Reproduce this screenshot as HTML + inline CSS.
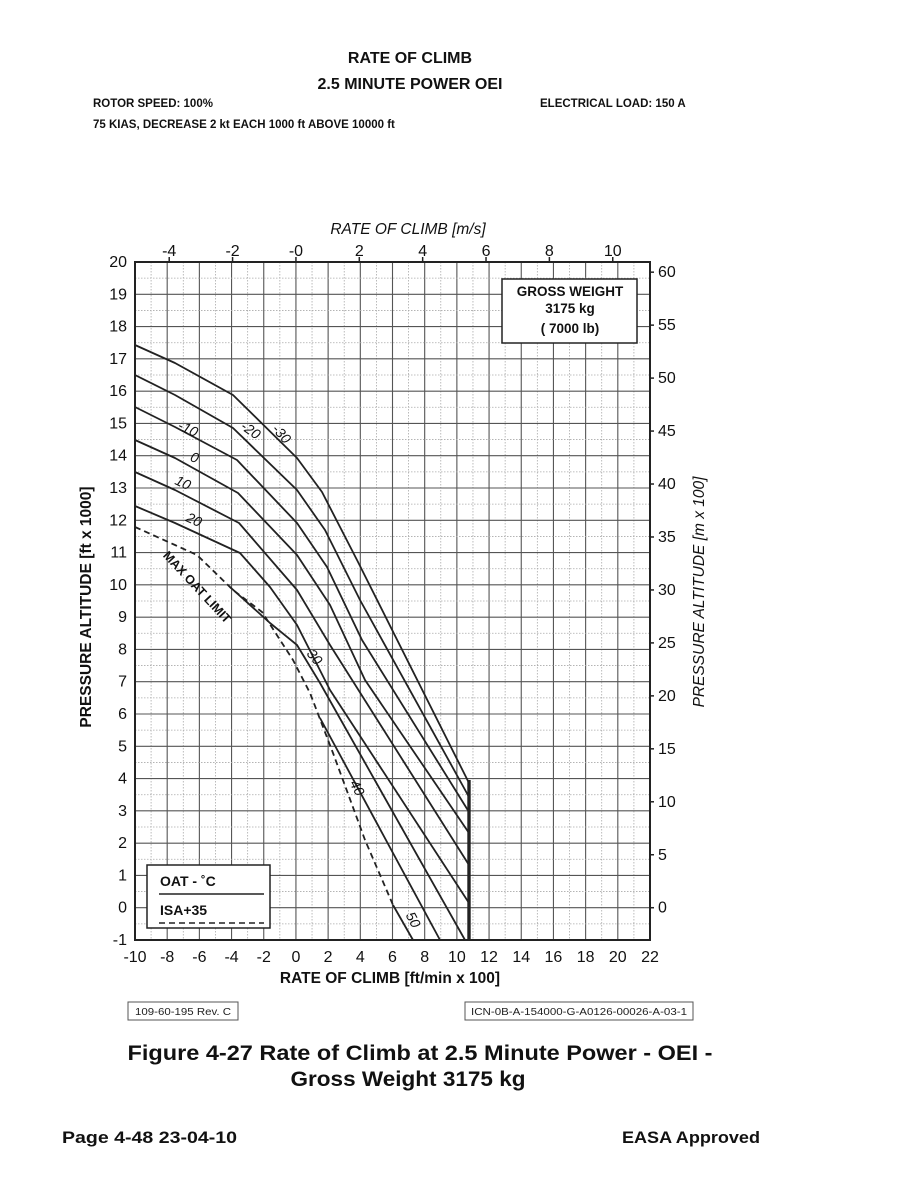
<!DOCTYPE html>
<html><head><meta charset="utf-8"><style>
html,body{margin:0;padding:0;background:#fff;}
svg{display:block;}
text{font-family:"Liberation Sans",Arial,Helvetica,sans-serif;}
</style></head><body>
<svg id="s" width="911" height="1198" viewBox="0 0 911 1198" xmlns="http://www.w3.org/2000/svg" font-family="Liberation Sans, Arial, sans-serif">
<g font-weight="bold" fill="#111">
<text x="410" y="63" font-size="16" text-anchor="middle">RATE OF CLIMB</text>
<text x="410" y="89" font-size="16" text-anchor="middle">2.5 MINUTE POWER OEI</text>
<text x="93" y="107" font-size="11.5">ROTOR SPEED: 100%</text>
<text x="540" y="107" font-size="11.5">ELECTRICAL LOAD:  150 A</text>
<text x="93" y="128" font-size="11.5">75 KIAS, DECREASE 2 kt EACH 1000 ft ABOVE 10000 ft</text>
</g>
<g id="grid"></g>
<g id="curves" fill="none" stroke="#222" stroke-width="1.8" stroke-linejoin="round"></g>
<rect x="135" y="262" width="515" height="678" fill="none" stroke="#222" stroke-width="2"/>
<g id="labels" fill="#111"></g>
<rect x="502" y="279" width="135" height="64" fill="#fff" stroke="#222" stroke-width="1.5"/>
<g font-weight="bold" font-size="13.5" text-anchor="middle" fill="#111">
<text x="570" y="296">GROSS WEIGHT</text>
<text x="570" y="313">3175 kg</text>
<text x="570" y="333">( 7000 lb)</text>
</g>
<rect x="147" y="865" width="123" height="63" fill="#fff" stroke="#222" stroke-width="1.5"/>
<g font-weight="bold" font-size="14" fill="#111">
<text x="160" y="886">OAT -  ˚C</text>
<text x="160" y="915">ISA+35</text>
</g>
<line x1="159" y1="894" x2="264" y2="894" stroke="#222" stroke-width="1.5"/>
<line x1="159" y1="923" x2="264" y2="923" stroke="#222" stroke-width="1.5" stroke-dasharray="6,4"/>
<text x="408" y="234" font-size="15.5" font-style="italic" text-anchor="middle" fill="#111">RATE OF CLIMB [m/s]</text>
<text x="390" y="983" font-size="15.5" font-weight="bold" text-anchor="middle" fill="#111">RATE OF CLIMB [ft/min x 100]</text>
<text transform="translate(91,607) rotate(-90)" font-size="15.5" font-weight="bold" text-anchor="middle" fill="#111">PRESSURE ALTITUDE [ft x 1000]</text>
<text transform="translate(704,592) rotate(-90)" font-size="15.5" font-style="italic" text-anchor="middle" fill="#111">PRESSURE ALTITUDE [m x 100]</text>
<rect x="128" y="1002" width="110" height="18" fill="none" stroke="#555" stroke-width="1"/>
<text x="183" y="1015" font-size="10" text-anchor="middle" fill="#222" textLength="96" lengthAdjust="spacingAndGlyphs">109-60-195 Rev. C</text>
<rect x="465" y="1002" width="228" height="18" fill="none" stroke="#555" stroke-width="1"/>
<text x="579" y="1015" font-size="10" text-anchor="middle" fill="#222" textLength="216" lengthAdjust="spacingAndGlyphs">ICN-0B-A-154000-G-A0126-00026-A-03-1</text>
<g font-weight="bold" fill="#111">
<text x="420" y="1060" font-size="21" text-anchor="middle" textLength="585" lengthAdjust="spacingAndGlyphs">Figure 4-27  Rate of Climb at 2.5 Minute Power - OEI -</text>
<text x="408" y="1086" font-size="21" text-anchor="middle" textLength="235" lengthAdjust="spacingAndGlyphs">Gross Weight 3175 kg</text>
<text x="62" y="1143" font-size="17" textLength="175" lengthAdjust="spacingAndGlyphs">Page 4-48    23-04-10</text>
<text x="760" y="1143" font-size="17" text-anchor="end" textLength="138" lengthAdjust="spacingAndGlyphs">EASA Approved</text>
</g>
</svg>
<script>
var NS="http://www.w3.org/2000/svg";
function el(p,t,a,txt){var e=document.createElementNS(NS,t);for(var k in a)e.setAttribute(k,a[k]);if(txt!==undefined)e.textContent=txt;p.appendChild(e);return e;}
var L=135,R=650,T=262,B=940;
var px=function(v){return L+(v+10)*(R-L)/32;};
var py=function(a){return B-(a+1)*(B-T)/21;};
var g=document.getElementById('grid');
for(var v=-10;v<=22;v++){var x=px(v);var maj=(v%2===0);
 el(g,'line',{x1:x,y1:T,x2:x,y2:B,stroke:maj?'#555':'#aaa','stroke-width':maj?1.1:0.8,'stroke-dasharray':maj?'':'1.5,1.5'});}
for(var a=-1;a<=20;a+=0.5){var y=py(a);var maj=(a%1===0);
 el(g,'line',{x1:L,y1:y,x2:R,y2:y,stroke:maj?'#555':'#aaa','stroke-width':maj?1.1:0.8,'stroke-dasharray':maj?'':'1.5,1.5'});}
var lb=document.getElementById('labels');
for(var v=-10;v<=22;v+=2){el(lb,'text',{x:px(v),y:962,'font-size':16,'text-anchor':'middle'},String(v));}
for(var a=-1;a<=20;a++){el(lb,'text',{x:127,y:py(a)+5,'font-size':16,'text-anchor':'end'},String(a));}
var ms=[-4,-2,0,2,4,6,8,10];
for(var i=0;i<ms.length;i++){var x=px(ms[i]*1.9685);
 el(lb,'line',{x1:x,y1:T-5,x2:x,y2:T,stroke:'#222','stroke-width':1.5});
 el(lb,'text',{x:x,y:T-6,'font-size':16,'text-anchor':'middle'},ms[i]===0?'-0':String(ms[i]));}
for(var m=0;m<=60;m+=5){var y=py(m*100/304.8);
 el(lb,'line',{x1:R,y1:y,x2:R+4,y2:y,stroke:'#222','stroke-width':1.5});
 el(lb,'text',{x:R+8,y:y+5,'font-size':16},String(m));}
var c=document.getElementById('curves');
function pl(pts,extra){var a={points:pts.map(function(p){return p.join(',');}).join(' ')};for(var k in extra)a[k]=extra[k];el(c,'polyline',a);}
pl([[135,345],[175,363],[233,395],[297,458],[322,492],[357,560],[469,783]]);
pl([[135,375],[175,395],[233,428],[297,490],[325,530],[360,600],[469,797]]);
pl([[135,407],[175,427],[237,460],[297,523],[327,567],[362,640],[469,812]]);
pl([[135,440],[175,458],[238,493],[297,555],[330,605],[365,680],[469,833]]);
pl([[135,472],[175,490],[239,523],[297,590],[330,645],[469,865]]);
pl([[135,506],[175,523],[240,553],[270,587],[297,625],[330,690],[469,903]]);
pl([[230,587],[270,623],[297,645],[320,683],[465,940]]);
pl([[320,718],[440,940]]);
pl([[393,905],[413,940]]);
pl([[135,527],[175,545],[197,555],[233,590],[262,612],[293,660],[310,693],[333,753],[365,840],[393,905]],{'stroke-dasharray':'6,4'});
el(c,'line',{x1:469,y1:780,x2:469,y2:940,'stroke-width':3.4});
var labs=[["-10",186,433,25],["0",193,462,20],["10",181,487,25],["20",192,524,25],["-20",248,434,35],["-30",278,437,48],["30",311,660,50],["40",353,790,62],["50",409,922,62]];
labs.forEach(function(l){el(lb,'text',{x:0,y:0,transform:'translate('+l[1]+','+l[2]+') rotate('+l[3]+')','font-size':14,'text-anchor':'middle','font-style':'italic'},l[0]);});
el(lb,'text',{x:0,y:0,transform:'translate(194,590) rotate(47)','font-size':12.5,'font-weight':'bold','text-anchor':'middle'},'MAX OAT LIMIT');
</script>
</body></html>
